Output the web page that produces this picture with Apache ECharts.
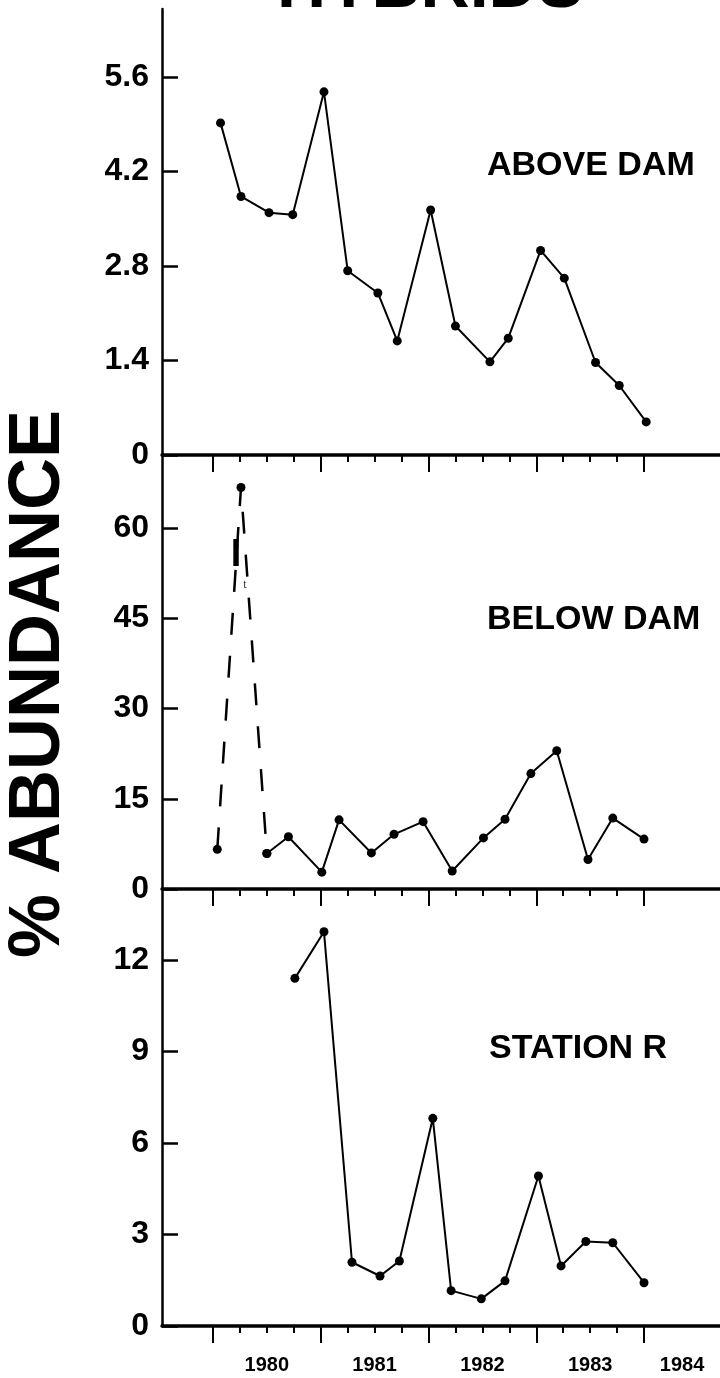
<!DOCTYPE html>
<html><head><meta charset="utf-8">
<script src="https://cdn.jsdelivr.net/npm/echarts@6/dist/echarts.min.js"></script>
<style>html,body{margin:0;padding:0;background:#fff}#c{width:720px;height:1378px}</style>
</head><body><div id="c"></div>
<script>
// ---- data ----
const yearLabels = ['1980', '1981', '1982', '1983', '1984'];
const yearTicks = [1980, 1981, 1982, 1983, 1984];
const quarterTicks = [1980.25, 1980.5, 1980.75, 1981.25, 1981.5, 1981.75,
  1982.25, 1982.5, 1982.75, 1983.25, 1983.5, 1983.75];

const aboveTickLabels = ['0', '1.4', '2.8', '4.2', '5.6'];
const belowTickLabels = ['0', '15', '30', '45', '60'];
const stationTickLabels = ['0', '3', '6', '9', '12'];

const aboveX = [1980.07, 1980.26, 1980.52, 1980.74, 1981.03, 1981.25, 1981.53, 1981.71, 1982.02,
  1982.25, 1982.57, 1982.74, 1983.04, 1983.26, 1983.55, 1983.77, 1984.02];
const aboveY = [4.92, 3.83, 3.59, 3.56, 5.38, 2.73, 2.40, 1.69, 3.63,
  1.91, 1.38, 1.73, 3.03, 2.62, 1.37, 1.03, 0.49];

const belowX = [1980.04, 1980.26, 1980.50, 1980.70, 1981.01, 1981.17, 1981.47, 1981.68, 1981.95,
  1982.22, 1982.51, 1982.71, 1982.95, 1983.19, 1983.48, 1983.71, 1984.00];
const belowY = [6.6, 66.8, 5.9, 8.7, 2.8, 11.5, 6.0, 9.1, 11.2,
  3.0, 8.5, 11.6, 19.2, 23.0, 4.9, 11.8, 8.3];
const belowDashedCount = 3; // first three points joined by the dashed line

const stationX = [1980.76, 1981.03, 1981.29, 1981.55, 1981.73, 1982.04, 1982.21, 1982.49,
  1982.71, 1983.02, 1983.23, 1983.46, 1983.71, 1984.00];
const stationY = [11.40, 12.93, 2.09, 1.64, 2.13, 6.81, 1.16, 0.89,
  1.48, 4.92, 1.97, 2.77, 2.73, 1.42];

const panelNames = ['ABOVE DAM', 'BELOW DAM', 'STATION R'];
const mainTitle = 'HYBRIDS';
const yTitle = '% ABUNDANCE';

// ---- chart ----
const X_MIN = 1979.527, X_MAX = 1984.705;
const FONT = "'Liberation Sans', Arial, sans-serif";
const pairs = (xs, ys) => xs.map((x, i) => [x, ys[i]]);
const labelPos = yearTicks.map(y => Math.min(y + 0.5, (y + X_MAX) / 2));

function xAxes(gi, withLabels) {
  return [{
    type: 'value', gridIndex: gi, min: X_MIN, max: X_MAX, position: 'bottom',
    axisLine: { show: true, onZero: false, lineStyle: { color: '#000', width: 3.5 } },
    axisTick: { show: true, customValues: yearTicks, length: 17, lineStyle: { color: '#000', width: 2 } },
    axisLabel: withLabels ? {
      show: true, customValues: labelPos, margin: 29,
      fontFamily: FONT, fontWeight: 'bold', fontSize: 20, color: '#000',
      formatter: v => {
        let best = 0;
        labelPos.forEach((p, i) => { if (Math.abs(p - v) < Math.abs(labelPos[best] - v)) best = i; });
        return yearLabels[best];
      }
    } : { show: false },
    splitLine: { show: false }
  }, {
    type: 'value', gridIndex: gi, min: X_MIN, max: X_MAX, position: 'bottom',
    axisLine: { show: false, onZero: false },
    axisTick: { show: true, customValues: quarterTicks, length: 7, lineStyle: { color: '#000', width: 2 } },
    axisLabel: { show: false },
    splitLine: { show: false }
  }];
}

function yAxis(gi, max, labels) {
  const vals = labels.map(Number);
  return {
    type: 'value', gridIndex: gi, min: 0, max: max,
    axisLine: { show: true, onZero: false, lineStyle: { color: '#000', width: 2.5 } },
    axisTick: { show: true, inside: true, customValues: vals, length: 16, lineStyle: { color: '#000', width: 2.5 } },
    axisLabel: {
      show: true, customValues: vals, margin: 13,
      fontFamily: FONT, fontWeight: 'bold', fontSize: 32, color: '#000',
      formatter: v => labels[vals.indexOf(v)] ?? String(v)
    },
    splitLine: { show: false }
  };
}

const solid = (xi, yi, data) => ({
  type: 'line', xAxisIndex: xi, yAxisIndex: yi, data: data,
  symbol: 'circle', symbolSize: 9, showAllSymbol: true,
  itemStyle: { color: '#000' }, lineStyle: { color: '#000', width: 2 },
  emphasis: { disabled: true }, z: 5
});

const dashedSeries = {
  type: 'line', xAxisIndex: 2, yAxisIndex: 1,
  data: pairs(belowX.slice(0, belowDashedCount), belowY.slice(0, belowDashedCount)),
  symbol: 'circle', symbolSize: 9,
  itemStyle: { color: '#000' }, lineStyle: { color: '#000', width: 2.5, type: [22, 21] },
  emphasis: { disabled: true }, z: 5
};

const chart = echarts.init(document.getElementById('c'), null, { renderer: 'canvas' });
chart.setOption({
  animation: false,
  backgroundColor: '#fff',
  grid: [
    { left: 162, top: 9, width: 558, height: 446 },
    { left: 162, top: 455, width: 558, height: 434 },
    { left: 162, top: 889, width: 558, height: 437 }
  ],
  xAxis: [...xAxes(0, false), ...xAxes(1, false), ...xAxes(2, true)],
  yAxis: [
    yAxis(0, 6.607, aboveTickLabels),
    yAxis(1, 72.2, belowTickLabels),
    yAxis(2, 14.33, stationTickLabels)
  ],
  series: [
    solid(0, 0, pairs(aboveX, aboveY)),
    dashedSeries,
    solid(2, 1, pairs(belowX.slice(belowDashedCount - 1), belowY.slice(belowDashedCount - 1))),
    solid(4, 2, pairs(stationX, stationY))
  ],
  graphic: [
    { type: 'text', x: 430, y: -12, style: { text: mainTitle, font: `bold 68px ${FONT}`, fill: '#000', align: 'center', verticalAlign: 'middle' } },
    { type: 'text', x: 39, y: 684, rotation: Math.PI / 2, style: { text: yTitle, font: `bold 72px ${FONT}`, fill: '#000', align: 'center', verticalAlign: 'middle' } },
    { type: 'text', x: 487, y: 166, style: { text: panelNames[0], font: `bold 34px ${FONT}`, fill: '#000', align: 'left', verticalAlign: 'middle' } },
    { type: 'text', x: 487, y: 620, style: { text: panelNames[1], font: `bold 34px ${FONT}`, fill: '#000', align: 'left', verticalAlign: 'middle' } },
    { type: 'text', x: 489, y: 1049, style: { text: panelNames[2], font: `bold 34px ${FONT}`, fill: '#000', align: 'left', verticalAlign: 'middle' } },
    { type: 'text', x: 236, y: 556, style: { text: 'I', font: `bold 38px ${FONT}`, fill: '#000', align: 'center', verticalAlign: 'middle' } },
    { type: 'text', x: 245, y: 585, style: { text: 't', font: `12px 'Liberation Serif', serif`, fill: '#333', align: 'center', verticalAlign: 'middle' } }
  ]
});
</script>
</body></html>
